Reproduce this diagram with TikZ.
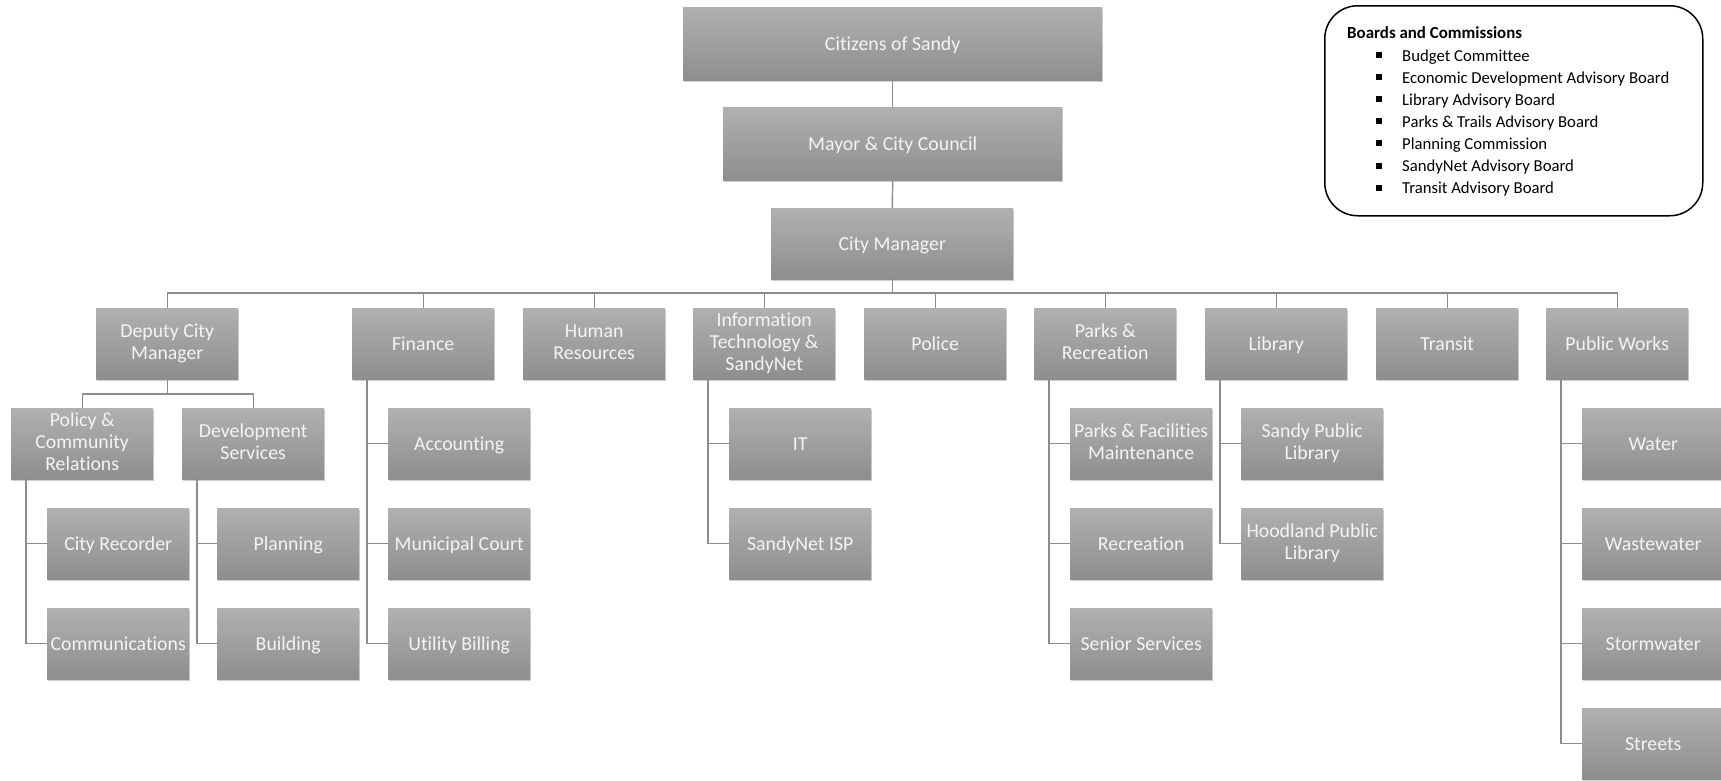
\documentclass[tikz,border=0pt]{standalone}
\usepackage{fontspec}
\setmainfont{Carlito}[Ligatures=NoCommon]
\usetikzlibrary{shadows}
\definecolor{boxtop}{HTML}{B0B0B0}
\definecolor{boxbot}{HTML}{8E8E8E}
\definecolor{conncol}{HTML}{8C8C8C}
\definecolor{boxtext}{HTML}{F4F4F4}
\begin{document}
\begin{tikzpicture}[x=1pt,y=-1pt,
 orgbox/.style={anchor=north west, minimum width=142pt, minimum height=71pt, inner sep=0pt,
   align=center, top color=boxtop, bottom color=boxbot, draw=none, text=boxtext,
   font=\fontsize{19.8}{21.9}\selectfont,
   execute at begin node={\rule[-3.9pt]{0pt}{21.9pt}},
   execute at end node={\rule[-3.9pt]{0pt}{21.9pt}},
   drop shadow={shadow xshift=1.2pt, shadow yshift=-1.8pt, opacity=0.35, fill=black!55}},
 link/.style={draw=conncol, line width=1.4pt},
 listtext/.style={anchor=base west, inner sep=0pt, font=\fontsize{16.7}{20}\selectfont, text=black},
]
\path[use as bounding box] (0,0) rectangle (1721,780);
\clip (0,0) rectangle (1721,780);
\fill[white] (0,0) rectangle (1721,780);

% top chain
\node[orgbox, minimum width=419pt, minimum height=73pt] (cit) at (683,7) {Citizens of Sandy};
\node[orgbox, minimum width=339pt, minimum height=73pt] (mayor) at (723,107) {Mayor \& City Council};
\node[orgbox, minimum width=242pt, minimum height=71pt] (cm) at (771,208) {City Manager};

% level 2
\node[orgbox] (dep) at (96,308) {Deputy City\\Manager};
\node[orgbox] (fin) at (352,308) {Finance};
\node[orgbox] (hr) at (523,308) {Human\\Resources};
\node[orgbox] (it) at (693,308) {Information\\Technology \&\\SandyNet};
\node[orgbox] (pol) at (864,308) {Police};
\node[orgbox] (par) at (1034,308) {Parks \&\\Recreation};
\node[orgbox] (lib) at (1205,308) {Library};
\node[orgbox] (tra) at (1376,308) {Transit};
\node[orgbox] (pw) at (1546,308) {Public Works};

% level 3
\node[orgbox] (pcr) at (11,408) {Policy \&\\Community\\Relations};
\node[orgbox] (dev) at (182,408) {Development\\Services};
\node[orgbox] (acc) at (388,408) {Accounting};
\node[orgbox] (mun) at (388,508) {Municipal Court};
\node[orgbox] (uti) at (388,608) {Utility Billing};
\node[orgbox] (itc) at (729,408) {IT};
\node[orgbox] (isp) at (729,508) {SandyNet ISP};
\node[orgbox] (pfm) at (1070,408) {Parks \& Facilities\\Maintenance};
\node[orgbox] (rec) at (1070,508) {Recreation};
\node[orgbox] (sen) at (1070,608) {Senior Services};
\node[orgbox] (spl) at (1241,408) {Sandy Public\\Library};
\node[orgbox] (hpl) at (1241,508) {Hoodland Public\\Library};
\node[orgbox] (wat) at (1582,408) {Water};
\node[orgbox] (wwt) at (1582,508) {Wastewater};
\node[orgbox] (stw) at (1582,608) {Stormwater};
\node[orgbox] (str) at (1582,708) {Streets};

% level 4
\node[orgbox] (crec) at (47,508) {City Recorder};
\node[orgbox] (com) at (47,608) {Communications};
\node[orgbox] (pla) at (217,508) {Planning};
\node[orgbox] (bui) at (217,608) {Building};

% connectors
\coordinate (bus) at (0,293);
\coordinate (sub) at (0,394);
\draw[link] (cit.south) -- (mayor.north);
\draw[link] (mayor.south) -- (cm.north);
\draw[link] (cm.south) -- (cm.south |- bus);
\draw[link] (dep.north) -- (dep.north |- bus) -- (pw.north |- bus) -- (pw.north);
\foreach \n in {fin,hr,it,pol,par,lib,tra}
  \draw[link] (\n.north) -- (\n.north |- bus);
\draw[link] (dep.south) -- (dep.south |- sub);
\draw[link] (pcr.north) -- (pcr.north |- sub) -- (dev.north |- sub) -- (dev.north);
\foreach \p/\c in {pcr/crec,pcr/com,dev/pla,dev/bui,fin/acc,fin/mun,fin/uti,it/itc,it/isp,
  par/pfm,par/rec,par/sen,lib/spl,lib/hpl,pw/wat,pw/wwt,pw/stw,pw/str}
  \draw[link] ([xshift=15pt]\p.south west) |- (\c.west);

% boards and commissions
\node[draw=black, line width=1.5pt, rounded corners=33pt, minimum width=378pt, minimum height=210pt,
  anchor=north west, inner sep=0pt] (boards) at (1324,5) {};
\node[listtext, font=\fontsize{16.9}{20}\selectfont\bfseries] (btitle) at (1347,38.3) {Boards and Commissions};
\foreach \t [count=\i from 0] in {Budget Committee,Economic Development Advisory Board,Library Advisory Board,
  Parks \& Trails Advisory Board,Planning Commission,SandyNet Advisory Board,Transit Advisory Board}
  \node[listtext] (item\i) at (1376,61+22.1*\i) {\rule[3pt]{6pt}{6pt}\hspace{20pt}\t};
\end{tikzpicture}
\end{document}
